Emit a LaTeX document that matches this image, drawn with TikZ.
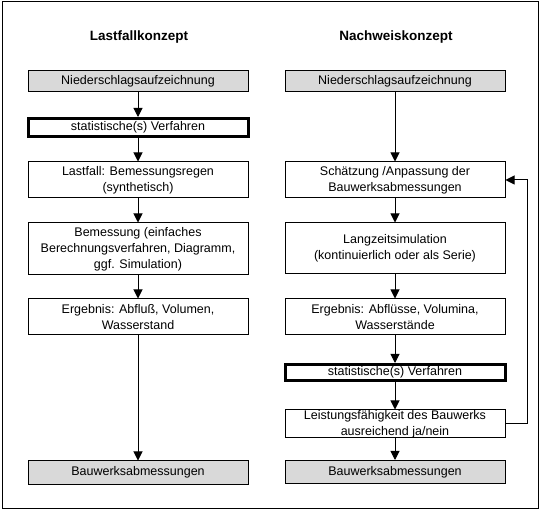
\documentclass[tikz,border=0pt]{standalone}
\usepackage{fontspec}
\setmainfont{Liberation Sans}
\usetikzlibrary{arrows.meta, positioning}

\begin{document}
\begin{tikzpicture}[x=1pt, y=-1pt, line width=1pt,
  box/.style={draw, minimum width=220pt, inner sep=0pt, align=center,
    font=\fontsize{12.5}{16}\selectfont},
  shaded/.style={box, fill=black!15, minimum height=21pt},
  heavy/.style={box, line width=3pt},
  title/.style={font=\fontsize{13.5}{16}\selectfont\bfseries},
  arr/.style={-{Triangle[width=9pt,length=9pt]}}]
\useasboundingbox (0,0) rectangle (541,510);
\draw (2,2) rectangle (538,508);
\node [title] (tl) at (139,37) {Lastfallkonzept};
\node [title] (tr) at (396,37) {Nachweiskonzept};
\node [shaded] (L1) at (138,81.5)  {Niederschlagsaufzeichnung};
\node [heavy, minimum height=18pt] (L2) at (138,127.5) {statistische(s) Verfahren};
\node [box, minimum height=36pt] (L3) at (138,180) {Lastfall: Bemessungsregen\\(synthetisch)};
\node [box, minimum height=52pt] (L4) at (138,249) {Bemessung (einfaches\\Berechnungsverfahren, Diagramm,\\ggf. Simulation)};
\node [box, minimum height=36pt] (L5) at (138,317) {Ergebnis: Abfluß, Volumen,\\Wasserstand};
\node [shaded, minimum height=23pt] (L6) at (138,472.5) {Bauwerksabmessungen};
\node [shaded] (R1) at (395,81.5)  {Niederschlagsaufzeichnung};
\node [box, minimum height=36pt] (R2) at (395,180) {Schätzung /Anpassung der\\Bauwerksabmessungen};
\node [box, minimum height=51pt] (R3) at (395,248.5) {Langzeitsimulation\\(kontinuierlich oder als Serie)};
\node [box, minimum height=36pt] (R4) at (395,317) {Ergebnis: Abflüsse, Volumina,\\Wasserstände};
\node [heavy, minimum height=16pt] (R5) at (395,372.5) {statistische(s) Verfahren};
\node [box, minimum height=28pt] (R6) at (395,424) {Leistungsfähigkeit des Bauwerks\\ausreichend ja/nein};
\node [shaded, minimum height=23pt] (R7) at (395,472) {Bauwerksabmessungen};
\draw [arr] (L1) -- (L2);
\draw [arr] (L2) -- (L3);
\draw [arr] (L3) -- (L4);
\draw [arr] (L4) -- (L5);
\draw [arr] (L5) -- (L6);
\draw [arr] (R1) -- (R2);
\draw [arr] (R2) -- (R3);
\draw [arr] (R3) -- (R4);
\draw [arr] (R4) -- (R5);
\draw [arr] (R5) -- (R6);
\draw [arr] (R6) -- (R7);
\draw [arr] (R6.east) -- ([xshift=22pt]R6.east) |- (R2.east);
\end{tikzpicture}
\end{document}
